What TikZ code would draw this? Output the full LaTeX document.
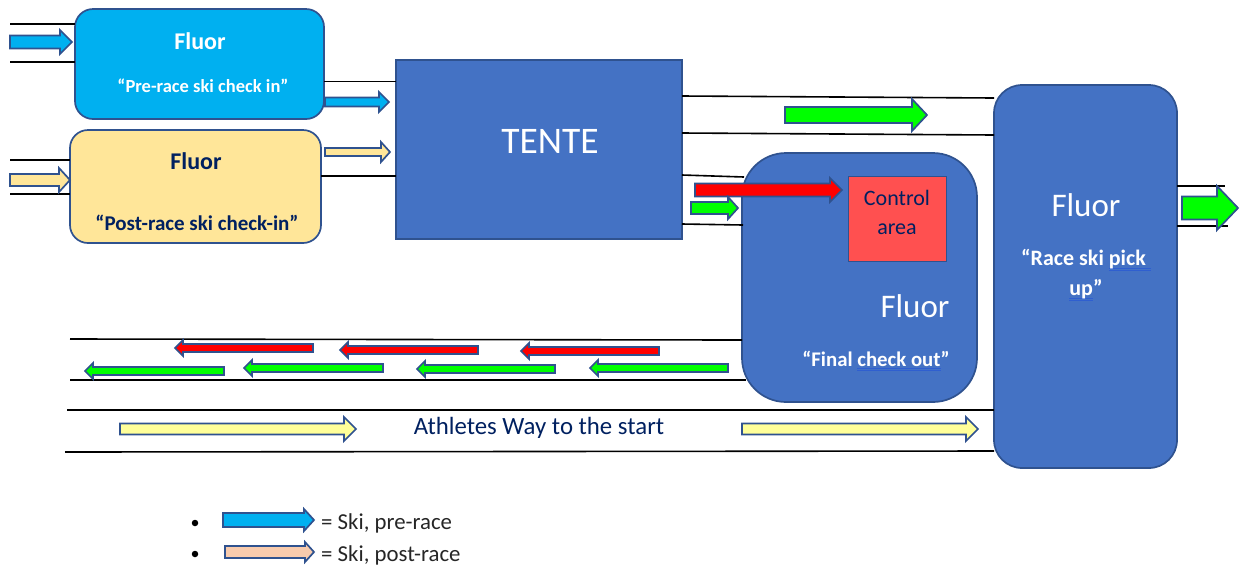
\documentclass[tikz,border=0pt]{standalone}
\usepackage{fontspec}
\setmainfont{Carlito}
\definecolor{bbl}{HTML}{4472C4}
\definecolor{edge}{HTML}{2F528F}
\definecolor{cy}{HTML}{00B0F0}
\definecolor{ye}{HTML}{FFE699}
\definecolor{pale}{HTML}{FFFF99}
\definecolor{peach}{HTML}{F8CBAD}
\definecolor{ctrl}{HTML}{FF5050}
\definecolor{navy}{HTML}{002060}
\definecolor{sq}{HTML}{2F5FD0}
\newcommand\spellu[1]{\leavevmode\setbox0\hbox{#1}\rlap{\color{sq}\raisebox{-2.6pt}{\rule{\wd0}{.6pt}}}\rlap{\color{sq}\raisebox{-4.4pt}{\rule{\wd0}{.6pt}}}\box0}
% \rblock{x start}{x tip}{y}{half shaft}{half head}{head length}{fill}
\newcommand\rblock[7]{\draw[arrowline,fill=#7] (#1,#3-#4) -- (#2-#6,#3-#4) -- (#2-#6,#3-#5) -- (#2,#3) -- (#2-#6,#3+#5) -- (#2-#6,#3+#4) -- (#1,#3+#4) -- cycle;}
\newcommand\lblock[7]{\draw[arrowline,fill=#7] (#1,#3-#4) -- (#2+#6,#3-#4) -- (#2+#6,#3-#5) -- (#2,#3) -- (#2+#6,#3+#5) -- (#2+#6,#3+#4) -- (#1,#3+#4) -- cycle;}
\tikzset{
  x=1pt,y=-1pt,
  arrowline/.style={draw=edge,line width=1.7pt,line join=miter},
  road/.style={draw=black,line width=1.6pt},
  box/.style={draw=edge,line width=1.7pt,inner sep=0pt,outer sep=0pt},
  lbl/.style={inner sep=0pt,align=center},
  wb/.style={lbl,text=white,font=\bfseries\fontsize{20}{24}\selectfont},
  wh/.style={lbl,text=white,font=\fontsize{33}{38}\selectfont},
  nb/.style={lbl,text=navy,font=\bfseries\fontsize{20}{24}\selectfont},
}
\begin{document}
\begin{tikzpicture}
\useasboundingbox (0,0) rectangle (1242,566);
% boxes
\node[box,fill=cy,rounded corners=18pt,minimum width=249pt,minimum height=110pt] (pre) at (199.5,64) {};
\node[box,fill=ye,rounded corners=18pt,minimum width=251pt,minimum height=113pt] (post) at (195.5,186.5) {};
\node[box,fill=bbl,minimum width=286pt,minimum height=179pt] (tente) at (539,149.5) {};
\node[box,fill=bbl,rounded corners=44pt,minimum width=235pt,minimum height=249pt] (final) at (859.5,277.5) {};
\node[box,fill=bbl,rounded corners=28pt,minimum width=183pt,minimum height=383pt] (race) at (1085.5,276.5) {};
\node[box,fill=ctrl,draw=edge,line width=1pt,minimum width=98pt,minimum height=85pt] (control) at (897,218.5) {};
% free ends of the lines
\coordinate (a1) at (10,24); \coordinate (a2) at (10,62);
\coordinate (b1) at (10,160); \coordinate (b2) at (10,194);
\coordinate (c1) at (682,96); \coordinate (c1e) at (994,98);
\coordinate (c2) at (682,133); \coordinate (c2e) at (994,135);
\coordinate (d1) at (682,175); \coordinate (d1e) at (744,177);
\coordinate (d2) at (682,224); \coordinate (d2e) at (743,225);
\coordinate (e1) at (1225,186); \coordinate (e2) at (1228,226);
\coordinate (f1) at (70,339); \coordinate (f1e) at (742,340);
\coordinate (f2) at (70,380); \coordinate (f2e) at (746,380);
\coordinate (g1) at (67,410); \coordinate (g1e) at (994,410);
\coordinate (g2) at (65,452); \coordinate (g2e) at (994,451);
% lines
\draw[road] (a1) -- (pre.west |- a1);
\draw[road] (a2) -- (pre.west |- a2);
\draw[road] (b1) -- (post.west |- b1);
\draw[road] (b2) -- (post.west |- b2);
\draw[road] (pre.east |- 0,81.5) -- (tente.west |- 0,81.5);
\draw[road] (post.east |- 0,176) -- (tente.west |- 0,176);
\draw[road] (tente.east |- c1) -- (c1e);
\draw[road] (tente.east |- c2) -- (c2e);
\draw[road] (tente.east |- d1) -- (d1e);
\draw[road] (tente.east |- d2) -- (d2e);
\draw[road] (race.east |- e1) -- (e1);
\draw[road] (race.east |- e2) -- (e2);
\draw[road] (f1) -- (f1e);
\draw[road] (f2) -- (f2e);
\draw[road] (g1) -- (g1e);
\draw[road] (g2) -- (g2e);
% block arrows
\rblock{10}{72}{42}{6.5}{12}{12}{cy}
\rblock{325}{389}{102}{4.5}{10}{10}{cy}
\rblock{10}{70}{180}{6}{12}{11}{ye}
\rblock{325}{390}{152}{4}{10}{9}{ye}
\rblock{785}{927}{115}{8}{16}{15}{green}
\rblock{695}{842}{190}{6.5}{12}{12}{red}
\rblock{691}{738}{208}{6}{11}{10}{green}
\rblock{1182}{1238}{208}{11.5}{22}{21}{green}
\lblock{313}{175}{348}{4}{8}{8}{red}
\lblock{478}{340}{350}{4}{8}{8}{red}
\lblock{659}{521}{351}{4}{8}{8}{red}
\lblock{224}{85}{371}{4}{8}{8}{green}
\lblock{383}{244}{368}{4}{8}{8}{green}
\lblock{555}{417}{369}{4}{8}{8}{green}
\lblock{728}{590}{368}{4}{8}{8}{green}
\rblock{120}{356}{429}{5.5}{12}{12}{pale}
\rblock{742}{978}{429}{5.5}{12}{12}{pale}
\rblock{223}{314}{520}{7}{11}{10}{cy}
\rblock{225}{314}{552}{6}{10}{9}{peach}
% labels
\node[wb,font=\bfseries\fontsize{24}{28}\selectfont] (t1) at (200,41) {Fluor};
\node[wb,font=\bfseries\fontsize{18.5}{22}\selectfont] (t2) at (203,85.5) {“Pre-race ski check in”};
\node[nb,font=\bfseries\fontsize{24}{28}\selectfont] (t3) at (196,161) {Fluor};
\node[nb,font=\bfseries\fontsize{21}{25}\selectfont] (t4) at (197,222.5) {“Post-race ski check-in”};
\node[lbl,text=white,font=\fontsize{37.5}{42}\selectfont] (t5) at (550,141.5) {TENTE};
\node[lbl,text=navy,font=\fontsize{22}{29}\selectfont] (t6) at (897,212) {Control\\area};
\node[wh] (t7) at (915,306) {Fluor};
\node[wb,font=\bfseries\fontsize{20.8}{25}\selectfont] (t8) at (876,361) {“Final \spellu{check out}”};
\node[wh] (t9) at (1086,205) {Fluor};
\node[wb,font=\bfseries\fontsize{22}{26}\selectfont] (t10) at (1086,260) {“Race ski \spellu{pick }};
\node[wb,font=\bfseries\fontsize{22}{26}\selectfont] (t11) at (1086,290) {\spellu{up}”};
\node[lbl,text=navy,font=\fontsize{24.8}{29}\selectfont] (t12) at (539,428) {Athletes Way to the start};
\node[circle,fill=black,inner sep=0pt,minimum size=6.5pt] (b1dot) at (195,523) {};
\node[circle,fill=black,inner sep=0pt,minimum size=6.5pt] (b2dot) at (195,554) {};
\node[lbl,anchor=west,text=black!85,font=\fontsize{22.8}{27}\selectfont] (l1) at (321,523) {= Ski, pre-race};
\node[lbl,anchor=west,text=black!85,font=\fontsize{22.8}{27}\selectfont] (l2) at (321,555) {= Ski, post-race};
\end{tikzpicture}
\end{document}
